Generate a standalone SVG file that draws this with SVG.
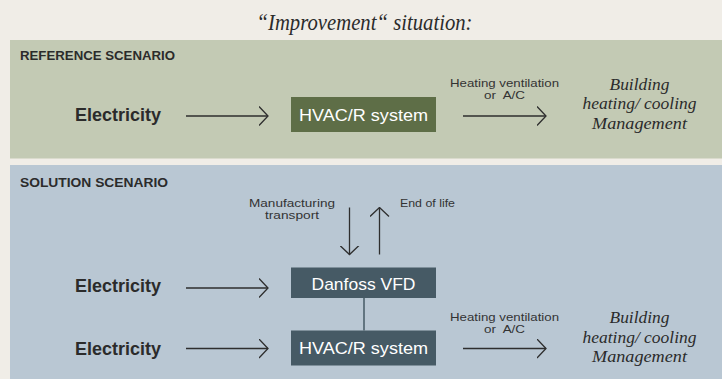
<svg xmlns="http://www.w3.org/2000/svg" width="722" height="379" viewBox="0 0 722 379">
<defs>
<style>
.hdr{font-family:"Liberation Sans",Arial,sans-serif;font-weight:bold;font-size:12.5px;fill:#2b2b2b}
.elec{font-family:"Liberation Sans",Arial,sans-serif;font-weight:bold;font-size:18px;fill:#2b2b2b}
.box{font-family:"Liberation Sans",Arial,sans-serif;font-size:17px;fill:#ffffff;text-anchor:middle}
.small{font-family:"Liberation Sans",Arial,sans-serif;font-size:10.5px;fill:#333333;text-anchor:middle}
.ital{font-family:"Liberation Serif","Times New Roman",serif;font-style:italic;font-size:17px;fill:#2b2b2b;text-anchor:middle}
.ln{stroke:#2e2e2e;stroke-width:1.3;fill:none}
</style>
<marker id="ah" viewBox="0 0 10 20" refX="9" refY="10" markerWidth="10" markerHeight="20" markerUnits="userSpaceOnUse" orient="auto">
<path d="M0,0.5 L9,10 L0,19.5" fill="none" stroke="#2e2e2e" stroke-width="1.3"/>
</marker>
</defs>
<rect width="722" height="379" fill="#f0ede7"/>
<text x="364.5" y="30" font-family="Liberation Serif,'Times New Roman',serif" font-style="italic" font-size="24" fill="#2b2b2b" text-anchor="middle" textLength="216" lengthAdjust="spacingAndGlyphs">“Improvement“ situation:</text>

<g id="reference-panel">
<rect x="10" y="40" width="712" height="118.5" fill="#c3cab4"/>
<text class="hdr" x="20" y="60" textLength="155" lengthAdjust="spacingAndGlyphs">REFERENCE SCENARIO</text>
</g>
<g id="ref-electricity"><text class="elec" x="75" y="120.5" textLength="86" lengthAdjust="spacingAndGlyphs">Electricity</text></g>
<g id="ref-hvac">
<rect x="291" y="97" width="145" height="35" fill="#5e6e47"/>
<text class="box" x="363.5" y="120.5" textLength="129" lengthAdjust="spacingAndGlyphs">HVAC/R system</text>
</g>
<g id="ref-output">
<text class="ital" x="639.5" y="90" textLength="60" lengthAdjust="spacingAndGlyphs">Building</text>
<text class="ital" x="639.5" y="109" textLength="114" lengthAdjust="spacingAndGlyphs">heating/ cooling</text>
<text class="ital" x="639.5" y="128.5" textLength="95" lengthAdjust="spacingAndGlyphs">Management</text>
</g>

<g id="solution-panel">
<rect x="10" y="165" width="712" height="214" fill="#b9c7d3"/>
<text class="hdr" x="20" y="187" textLength="148" lengthAdjust="spacingAndGlyphs">SOLUTION SCENARIO</text>
</g>
<g id="sol-electricity-1"><text class="elec" x="75" y="292" textLength="86" lengthAdjust="spacingAndGlyphs">Electricity</text></g>
<g id="sol-electricity-2"><text class="elec" x="75" y="354.5" textLength="86" lengthAdjust="spacingAndGlyphs">Electricity</text></g>
<g id="sol-vfd">
<rect x="291" y="267.5" width="145" height="30.5" fill="#465a65"/>
<text class="box" x="363.5" y="290" textLength="104" lengthAdjust="spacingAndGlyphs">Danfoss VFD</text>
</g>
<g id="sol-hvac">
<rect x="291" y="330.5" width="145" height="35" fill="#465a65"/>
<text class="box" x="363.5" y="354" textLength="129" lengthAdjust="spacingAndGlyphs">HVAC/R system</text>
</g>
<g id="sol-output">
<text class="ital" x="639.5" y="323" textLength="60" lengthAdjust="spacingAndGlyphs">Building</text>
<text class="ital" x="639.5" y="342.5" textLength="114" lengthAdjust="spacingAndGlyphs">heating/ cooling</text>
<text class="ital" x="639.5" y="362" textLength="95" lengthAdjust="spacingAndGlyphs">Management</text>
</g>

<g id="connectors">
<line class="ln" x1="186" y1="116" x2="268" y2="116" marker-end="url(#ah)"/>
<line class="ln" x1="463" y1="116" x2="546" y2="116" marker-end="url(#ah)"/>
<line class="ln" x1="186" y1="288" x2="268" y2="288" marker-end="url(#ah)"/>
<line class="ln" x1="186" y1="348.5" x2="268" y2="348.5" marker-end="url(#ah)"/>
<line class="ln" x1="463" y1="348.5" x2="546" y2="348.5" marker-end="url(#ah)"/>
<line class="ln" x1="349.5" y1="207.5" x2="349.5" y2="254.5" marker-end="url(#ah)"/>
<line class="ln" x1="379.5" y1="254.5" x2="379.5" y2="207.5" marker-end="url(#ah)"/>
<line x1="364" y1="298" x2="364" y2="330.5" stroke="#465a65" stroke-width="1.5"/>
<text class="small" x="504.5" y="87" textLength="109" lengthAdjust="spacingAndGlyphs">Heating ventilation</text>
<text class="small" x="504.5" y="99" xml:space="preserve" textLength="41" lengthAdjust="spacingAndGlyphs">or  A/C</text>
<text class="small" x="504.5" y="320.5" textLength="109" lengthAdjust="spacingAndGlyphs">Heating ventilation</text>
<text class="small" x="504.5" y="332.5" xml:space="preserve" textLength="41" lengthAdjust="spacingAndGlyphs">or  A/C</text>
<text class="small" x="292" y="206.5" textLength="86" lengthAdjust="spacingAndGlyphs">Manufacturing</text>
<text class="small" x="292" y="218.5" textLength="54" lengthAdjust="spacingAndGlyphs">transport</text>
<text class="small" x="400" y="206.5" style="text-anchor:start" textLength="55" lengthAdjust="spacingAndGlyphs">End of life</text>
</g>
</svg>
